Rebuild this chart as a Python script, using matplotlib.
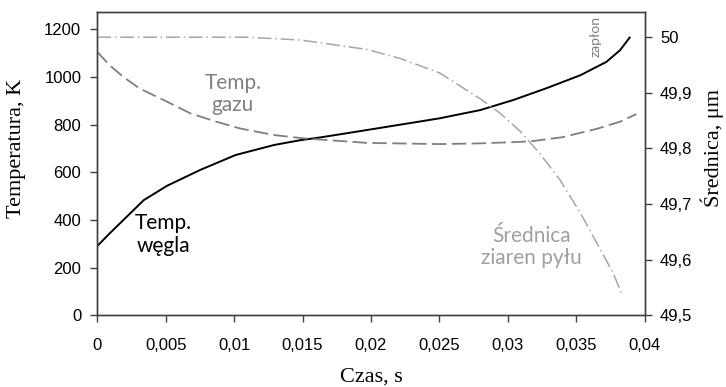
import matplotlib.pyplot as plt

# time [s] and coal particle temperature [K]
t_coal = [0, 0.0009, 0.0019, 0.0034, 0.0051, 0.0075, 0.0101, 0.0129, 0.0148, 0.0163,
          0.0197, 0.025, 0.028, 0.0304, 0.0328, 0.0353, 0.0372, 0.0382, 0.0389]
T_coal = [291, 344, 400, 484, 544, 610, 673, 715, 735, 747,
          778, 827, 862, 904, 953, 1008, 1064, 1113, 1166]

# gas temperature [K]
t_gas = [0, 0.0009, 0.0019, 0.0031, 0.0051, 0.0068, 0.0087, 0.0104, 0.0129, 0.0151,
         0.0197, 0.025, 0.028, 0.0316, 0.034, 0.0365, 0.0382, 0.0394]
T_gas = [1106, 1050, 1001, 952, 897, 848, 813, 785, 757, 743,
         724, 719, 722, 730, 748, 783, 813, 845]

# particle diameter [um]
t_diam = [0, 0.0109, 0.0148, 0.0163, 0.0197, 0.0221, 0.025, 0.028, 0.0294, 0.0309,
          0.0323, 0.0338, 0.0353, 0.0365, 0.0377, 0.0383]
d_diam = [50.0, 50.0, 49.995, 49.99, 49.978, 49.962, 49.936, 49.889, 49.864, 49.831,
          49.792, 49.744, 49.684, 49.630, 49.576, 49.54]

x_ticks = [0, 0.005, 0.01, 0.015, 0.02, 0.025, 0.03, 0.035, 0.04]
x_labels = ["0", "0,005", "0,01", "0,015", "0,02", "0,025", "0,03", "0,035", "0,04"]
y_ticks = [0, 200, 400, 600, 800, 1000, 1200]
y2_ticks = [49.5, 49.6, 49.7, 49.8, 49.9, 50.0]
y2_labels = ["49,5", "49,6", "49,7", "49,8", "49,9", "50"]

plt.rcParams.update({
    "font.family": "Liberation Sans",
    "font.size": 12,
})

fig = plt.figure(figsize=(7.26, 3.87), dpi=100)
ax = fig.add_axes([0.134, 0.185, 0.754, 0.785])
ax2 = ax.twinx()

ax.plot(t_coal, T_coal, color="black", linewidth=1.4)
ax.plot(t_gas, T_gas, color="#7f7f7f", linewidth=1.3, dashes=(8, 3))
ax2.plot(t_diam, d_diam, color="#a6a6a6", linewidth=1.1, dashes=(9, 2.5, 1, 2.5))

ax.set_xlim(0, 0.04)
ax.set_ylim(0, 1275)
ax2.set_ylim(49.5, 50.046)

ax.set_xticks(x_ticks)
ax.set_xticklabels(x_labels)
ax.set_yticks(y_ticks)
ax2.set_yticks(y2_ticks)
ax2.set_yticklabels(y2_labels)

for a in (ax, ax2):
    a.tick_params(direction="out", length=5, width=1, color="#404040", labelsize=12)
    for s in a.spines.values():
        s.set_color("#404040")
        s.set_linewidth(1)
ax.tick_params(axis="x", pad=11)
ax.tick_params(axis="y", pad=6.5)
ax2.tick_params(axis="y", pad=6)

serif = "Liberation Serif"
ax.set_xlabel("Czas, s", fontfamily=serif, fontsize=16)
ax.set_ylabel("Temperatura, K", fontfamily=serif, fontsize=16)
ax2.set_ylabel("Średnica, μm", fontfamily=serif, fontsize=16)
ax.xaxis.set_label_coords(0.5, -0.202)
ax.yaxis.set_label_coords(-0.147, 0.55)
ax2.yaxis.set_label_coords(1.124, 0.55)
ax.xaxis.label.set_va("center")
ax.yaxis.label.set_va("center")
ax2.yaxis.label.set_va("center")

note = "Lato"
ax.text(0.0099, 930, "Temp.\ngazu", color="#808080", fontfamily=note, fontsize=15,
        ha="center", va="center", linespacing=1.15)
ax.text(0.0048, 339, "Temp.\nwęgla", color="black", fontfamily=note, fontsize=15,
        ha="center", va="center", linespacing=1.15)
ax.text(0.0317, 288, "Średnica\nziaren pyłu", color="#a0a0a0", fontfamily=note, fontsize=15,
        ha="center", va="center", linespacing=1.15)
ax.text(0.0364, 1170, "zapłon", color="#808080", fontfamily=note, fontsize=10,
        ha="center", va="center", rotation=90)

fig.savefig("out.png", dpi=100)
